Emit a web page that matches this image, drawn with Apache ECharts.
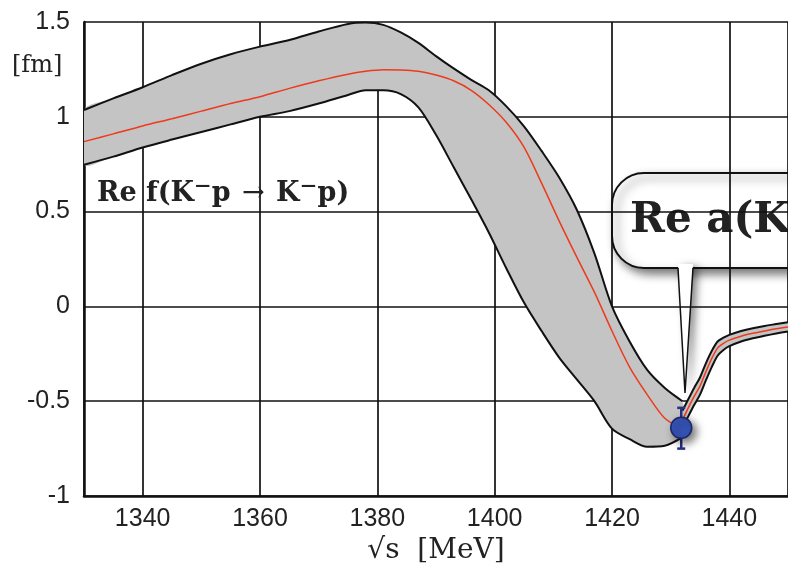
<!DOCTYPE html>
<html>
<head>
<meta charset="utf-8">
<script src="https://cdn.jsdelivr.net/npm/echarts@6/dist/echarts.min.js"></script>
<style>
  html, body { margin: 0; padding: 0; background: #fff; }
  #main { width: 788px; height: 576px; }
</style>
</head>
<body>
<div id="main"></div>
<script>
// Re f(K-p -> K-p) below threshold, band + central fit [fm]
var energy = [1330, 1335, 1340, 1345, 1350, 1355, 1360, 1365, 1370, 1375, 1378, 1381, 1384, 1387,
  1390, 1393, 1396, 1399, 1402, 1405, 1408, 1411, 1414, 1417, 1420, 1423, 1426, 1429, 1432];
var upperEdge = [1.036, 1.097, 1.156, 1.22, 1.28, 1.33, 1.37, 1.405, 1.45, 1.49, 1.497, 1.485, 1.445, 1.39,
  1.32, 1.255, 1.195, 1.14, 1.055, 0.95, 0.82, 0.68, 0.51, 0.28, 0.0, -0.185, -0.335, -0.43, -0.50];
var centralFit = [0.869, 0.91, 0.952, 0.99, 1.03, 1.07, 1.106, 1.15, 1.19, 1.225, 1.24, 1.248, 1.247, 1.24,
  1.22, 1.19, 1.14, 1.065, 0.97, 0.84, 0.65, 0.45, 0.26, 0.075, -0.13, -0.32, -0.465, -0.59, -0.645];
var lowerEdge = [0.747, 0.79, 0.838, 0.88, 0.92, 0.96, 1.0, 1.03, 1.07, 1.115, 1.14, 1.14, 1.12, 1.05,
  0.905, 0.735, 0.565, 0.39, 0.2, 0.02, -0.13, -0.27, -0.385, -0.50, -0.645, -0.70, -0.74, -0.735, -0.69];

// above the K-p threshold
var energyAbove = [1432, 1433, 1434, 1435, 1436, 1437, 1438, 1439, 1440, 1442, 1444, 1446, 1448, 1450];
var upperAbove = [-0.55, -0.49, -0.43, -0.375, -0.30, -0.235, -0.185, -0.165, -0.15, -0.13, -0.115, -0.103, -0.093, -0.083];
var centralAbove = [-0.60, -0.535, -0.475, -0.42, -0.345, -0.275, -0.22, -0.195, -0.178, -0.157, -0.142, -0.13, -0.118, -0.108];
var lowerAbove = [-0.64, -0.58, -0.52, -0.465, -0.39, -0.32, -0.26, -0.23, -0.21, -0.185, -0.168, -0.155, -0.143, -0.132];

// SIDDHARTA point: Re a(K-p)
var expPoint = [1431.8, -0.64];
var expError = [-0.75, -0.535];

function pairs(xs, ys) {
  return xs.map(function (x, i) { return [x, ys[i]]; });
}
function triples(xs, lo, hi) {
  return xs.map(function (x, i) { return [x, lo[i], hi[i]]; });
}

// grey band filled between lower and upper edge
function bandFill(xs, lo, hi) {
  return {
    type: 'custom',
    z: 2,
    clip: true,
    data: triples(xs, lo, hi),
    encode: { x: 0, y: [1, 2] },
    renderItem: function (params, api) {
      if (params.dataIndexInside !== 0) return;
      var n = params.dataInsideLength;
      var top = [], bot = [];
      for (var i = 0; i < n; i++) {
        top.push(api.coord([api.value(0, i), api.value(2, i)]));
        bot.push(api.coord([api.value(0, i), api.value(1, i)]));
      }
      return {
        type: 'polygon',
        shape: { points: top.concat(bot.reverse()), smooth: 0.3 },
        style: { fill: '#c4c4c4' }
      };
    }
  };
}

function bandSeries(xs, lo, mid, hi) {
  return [
    bandFill(xs, lo, hi),
    {
      type: 'line', smooth: 0.3, symbol: 'none',
      lineStyle: { color: '#111', width: 2 }, data: pairs(xs, hi), z: 3
    },
    {
      type: 'line', smooth: 0.3, symbol: 'none',
      lineStyle: { color: '#111', width: 2 }, data: pairs(xs, lo), z: 3
    },
    {
      type: 'line', smooth: 0.3, symbol: 'none',
      lineStyle: { color: '#ee3a1c', width: 1.5 }, data: pairs(xs, mid), z: 4
    }
  ];
}

var chart = echarts.init(document.getElementById('main'), null, { renderer: 'canvas' });

var tickFont = 'Liberation Sans';
var serif = 'DejaVu Serif';

var series = bandSeries(energy, lowerEdge, centralFit, upperEdge)
  .concat(bandSeries(energyAbove, lowerAbove, centralAbove, upperAbove));

series.push({
  type: 'custom',
  z: 6,
  data: [[expPoint[0], expError[0], expError[1]]],
  encode: { x: 0, y: [1, 2] },
  renderItem: function (params, api) {
    var bot = api.coord([api.value(0), api.value(1)]);
    var top = api.coord([api.value(0), api.value(2)]);
    var hw = 4;
    var st = { stroke: '#26327e', lineWidth: 2.5 };
    return {
      type: 'group',
      children: [
        { type: 'line', shape: { x1: top[0], y1: top[1], x2: bot[0], y2: bot[1] }, style: st },
        { type: 'line', shape: { x1: top[0] - hw, y1: top[1], x2: top[0] + hw, y2: top[1] }, style: st },
        { type: 'line', shape: { x1: bot[0] - hw, y1: bot[1], x2: bot[0] + hw, y2: bot[1] }, style: st }
      ]
    };
  }
});

series.push({
  type: 'scatter',
  z: 7,
  symbolSize: 21,
  data: [expPoint],
  itemStyle: {
    color: '#3654b8', borderColor: '#1b2666', borderWidth: 1.5, opacity: 1,
    shadowBlur: 8, shadowColor: 'rgba(0,0,0,0.55)', shadowOffsetX: 4, shadowOffsetY: 4
  }
});

var option = {
  animation: false,
  backgroundColor: '#fff',
  grid: { left: 84, right: -5, top: 22, bottom: 80 },
  xAxis: {
    type: 'value',
    min: 1330,
    max: 1450,
    splitNumber: 6,
    minInterval: 20,
    maxInterval: 20,
    name: '√s  [MeV]',
    nameLocation: 'middle',
    nameGap: 41,
    nameTextStyle: { fontFamily: serif, fontSize: 28, color: '#222' },
    axisLine: { onZero: false, lineStyle: { color: '#111', width: 2.5 } },
    axisTick: { show: false },
    axisLabel: {
      showMinLabel: false, showMaxLabel: false,
      formatter: function (v) { return String(v); },
      margin: 11, fontFamily: tickFont, fontSize: 25, color: '#222'
    },
    splitLine: { lineStyle: { color: '#111', width: 1.7 } }
  },
  yAxis: {
    type: 'value',
    min: -1,
    max: 1.5,
    interval: 0.5,
    axisLine: { show: true, onZero: false, lineStyle: { color: '#111', width: 2.5 } },
    axisTick: { show: false },
    axisLabel: { margin: 14, fontFamily: tickFont, fontSize: 25, color: '#222' },
    splitLine: { lineStyle: { color: '#111', width: 1.7 } }
  },
  graphic: [
    {
      type: 'text', left: 12, top: 54, z: 10,
      style: { text: '[fm]', font: '24px "DejaVu Serif"', fill: '#222' }
    },
    {
      type: 'text', left: 97, top: 177, z: 10,
      style: {
        text: '{b|Re f(K}{s|⁻}{b|p }{a|→}{b| K}{s|⁻}{b|p)}',
        rich: {
          b: { fontFamily: serif, fontWeight: 'bold', fontSize: 27, lineHeight: 32, fill: '#222' },
          s: { fontFamily: serif, fontWeight: 'bold', fontSize: 34, lineHeight: 32, fill: '#222' },
          a: { fontFamily: serif, fontSize: 27, lineHeight: 32, fill: '#222', padding: [0, 2, 0, 2] }
        }
      }
    },
    {
      type: 'group', z: 20,
      children: [
        {
          type: 'rect',
          shape: { x: 612, y: 173, width: 260, height: 95, r: 32 },
          style: {
            fill: '#fff', stroke: '#111', lineWidth: 2,
            shadowBlur: 10, shadowColor: 'rgba(0,0,0,0.55)', shadowOffsetX: 5, shadowOffsetY: 5
          }
        },
        {
          type: 'polygon',
          shape: { points: [[678, 264], [693, 264], [685, 393]] },
          style: {
            fill: '#fff',
            shadowBlur: 8, shadowColor: 'rgba(0,0,0,0.5)', shadowOffsetX: 5, shadowOffsetY: 3
          }
        },
        {
          type: 'polyline',
          shape: { points: [[678, 268], [685, 393], [693, 268]] },
          style: { stroke: '#111', lineWidth: 1.5, fill: null }
        },
        {
          type: 'text',
          style: { text: 'Re a(K⁻p)', x: 630, y: 221, verticalAlign: 'middle', font: 'bold 42px "DejaVu Serif"', fill: '#222' }
        }
      ]
    }
  ],
  series: series
};

chart.setOption(option);
</script>
</body>
</html>
